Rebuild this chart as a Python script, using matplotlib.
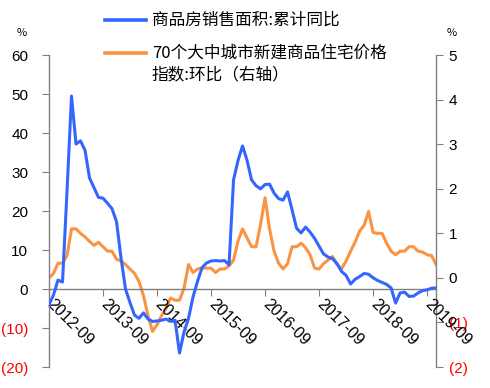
import numpy as np
import pandas as pd
import matplotlib
matplotlib.use("Agg")
import matplotlib.pyplot as plt
from matplotlib.lines import Line2D

# Fuentes: CJK primero, DejaVu como respaldo
plt.rcParams['font.family'] = ['Noto Sans CJK SC', 'DejaVu Sans']

# ---------------------------------------------------------------
# Datos (mensuales, 2012-09 .. 2019-11)
# ---------------------------------------------------------------
meses = pd.date_range('2012-09-01', periods=87, freq='MS')

# 商品房销售面积:累计同比 (%), eje izquierdo
ventas = [
    -4.0, -1.5, 2.3, 1.8, 25.0, 49.5, 37.2, 38.0, 35.6, 28.5,
    26.0, 23.5, 23.3, 22.0, 20.6, 17.3, 8.0, 0.0, -3.5, -6.7,
    -7.5, -6.1, -7.7, -8.3, -8.2, -8.0, -7.7, -8.3, -8.0, -16.4,
    -11.0, -7.5, -2.0, 2.0, 5.5, 6.7, 7.2, 7.3, 7.2, 7.3,
    6.2, 28.0, 33.0, 36.7, 33.0, 28.0, 26.5, 25.7, 26.8, 26.9,
    24.6, 23.2, 22.8, 24.9, 20.3, 15.6, 14.4, 15.9, 14.6, 13.0,
    11.0, 9.0, 8.2, 7.8, 6.5, 4.5, 3.5, 1.3, 2.5, 3.2,
    4.0, 3.8, 2.9, 2.2, 1.7, 1.2, 0.3, -3.6, -1.0, -0.8,
    -1.9, -1.8, -1.0, -0.4, -0.2, 0.2, 0.3,
]

# 70个大中城市新建商品住宅价格指数:环比 (%), eje derecho
precios = [
    0.0, 0.1, 0.33, 0.33, 0.5, 1.1, 1.1, 1.0, 0.92, 0.82,
    0.73, 0.8, 0.7, 0.6, 0.6, 0.42, 0.38, 0.3, 0.2, 0.1,
    -0.08, -0.4, -0.85, -1.2, -1.05, -0.85, -0.68, -0.45, -0.5, -0.5,
    -0.23, 0.3, 0.12, 0.2, 0.22, 0.22, 0.22, 0.12, 0.2, 0.2,
    0.27, 0.4, 0.83, 1.1, 0.9, 0.7, 0.7, 1.2, 1.8, 1.1,
    0.6, 0.33, 0.2, 0.32, 0.7, 0.7, 0.78, 0.68, 0.52, 0.22,
    0.2, 0.32, 0.4, 0.48, 0.3, 0.2, 0.38, 0.6, 0.8, 1.05,
    1.18, 1.49, 1.02, 1.0, 1.0, 0.78, 0.6, 0.52, 0.6, 0.6,
    0.7, 0.7, 0.6, 0.58, 0.52, 0.5, 0.3,
]

nombre_ventas = '商品房销售面积:累计同比'
nombre_precios = ['70个大中城市新建商品住宅价格', '指数:环比（右轴）']

ticks_izq = [60, 50, 40, 30, 20, 10, 0, -10, -20]
ticks_der = [5, 4, 3, 2, 1, 0, -1, -2]

azul = '#3366FF'
naranja = '#FA9442'
gris = '#808080'


def etiqueta(v):
    # numeros negativos entre parentesis, como en el original
    return f'({abs(v)})' if v < 0 else f'{v}'


x = np.arange(len(meses))

fig = plt.figure(figsize=(4.9, 3.88), dpi=100)
ax = fig.add_axes([0.1, 0.054, 0.79, 0.804])
ax2 = ax.twinx()

ax.plot(x, ventas, color=azul, lw=2.2, zorder=3)
ax2.plot(x, precios, color=naranja, lw=2.2, zorder=2)

# el eje de la izquierda por delante
ax.set_zorder(ax2.get_zorder() + 1)
ax.patch.set_visible(False)

ax.set_xlim(0, len(meses) - 1)
ax.set_ylim(-20, 60)
ax2.set_ylim(-2, 5)

# ejes y bordes
for a in (ax, ax2):
    a.spines['top'].set_visible(False)
    for s in a.spines.values():
        s.set_color(gris)
        s.set_linewidth(1.0)
ax.spines['right'].set_visible(False)
ax2.spines['left'].set_visible(False)
ax2.spines['bottom'].set_visible(False)
ax.spines['bottom'].set_position(('data', 0))

# eje x: etiquetas cada septiembre, giradas
pos_x = [i for i, m in enumerate(meses) if m.month == 9]
ax.set_xticks(pos_x)
ax.set_xticklabels([meses[i].strftime('%Y-%m') for i in pos_x],
                   rotation=-45, rotation_mode='anchor', ha='left', va='center',
                   fontsize=11.5, family=['Liberation Sans', 'DejaVu Sans'])
ax.tick_params(axis='x', direction='out', length=5, color=gris, pad=4)

# eje y izquierdo
ax.set_yticks(ticks_izq)
ax.set_yticklabels([etiqueta(v) for v in ticks_izq], fontsize=11,
                   family=['Liberation Sans', 'DejaVu Sans'])
for lab, v in zip(ax.get_yticklabels(), ticks_izq):
    lab.set_color('red' if v < 0 else 'black')
ax.tick_params(axis='y', direction='out', length=5, color=gris, pad=10)

# eje y derecho
ax2.set_yticks(ticks_der)
ax2.set_yticklabels([etiqueta(v) for v in ticks_der], fontsize=11,
                    family=['Liberation Sans', 'DejaVu Sans'])
for lab, v in zip(ax2.get_yticklabels(), ticks_der):
    lab.set_color('red' if v < 0 else 'black')
ax2.tick_params(axis='y', direction='out', length=5, color=gris, pad=4)

# unidades
fig.text(0.045, 0.915, '%', fontsize=8, ha='center', va='center')
fig.text(0.922, 0.915, '%', fontsize=8, ha='center', va='center')

# leyenda hecha a mano (la muestra naranja va con la primera linea)
x0, x1, xt = 0.214, 0.298, 0.310
fig.add_artist(Line2D([x0, x1], [0.948, 0.948], color=azul, lw=2.6,
                      transform=fig.transFigure))
fig.text(xt, 0.948, nombre_ventas, fontsize=12, va='center')
fig.add_artist(Line2D([x0, x1], [0.863, 0.863], color=naranja, lw=2.6,
                      transform=fig.transFigure))
fig.text(xt, 0.863, nombre_precios[0], fontsize=12, va='center')
fig.text(xt, 0.807, nombre_precios[1], fontsize=12, va='center')

fig.savefig('out.png', dpi=100)
